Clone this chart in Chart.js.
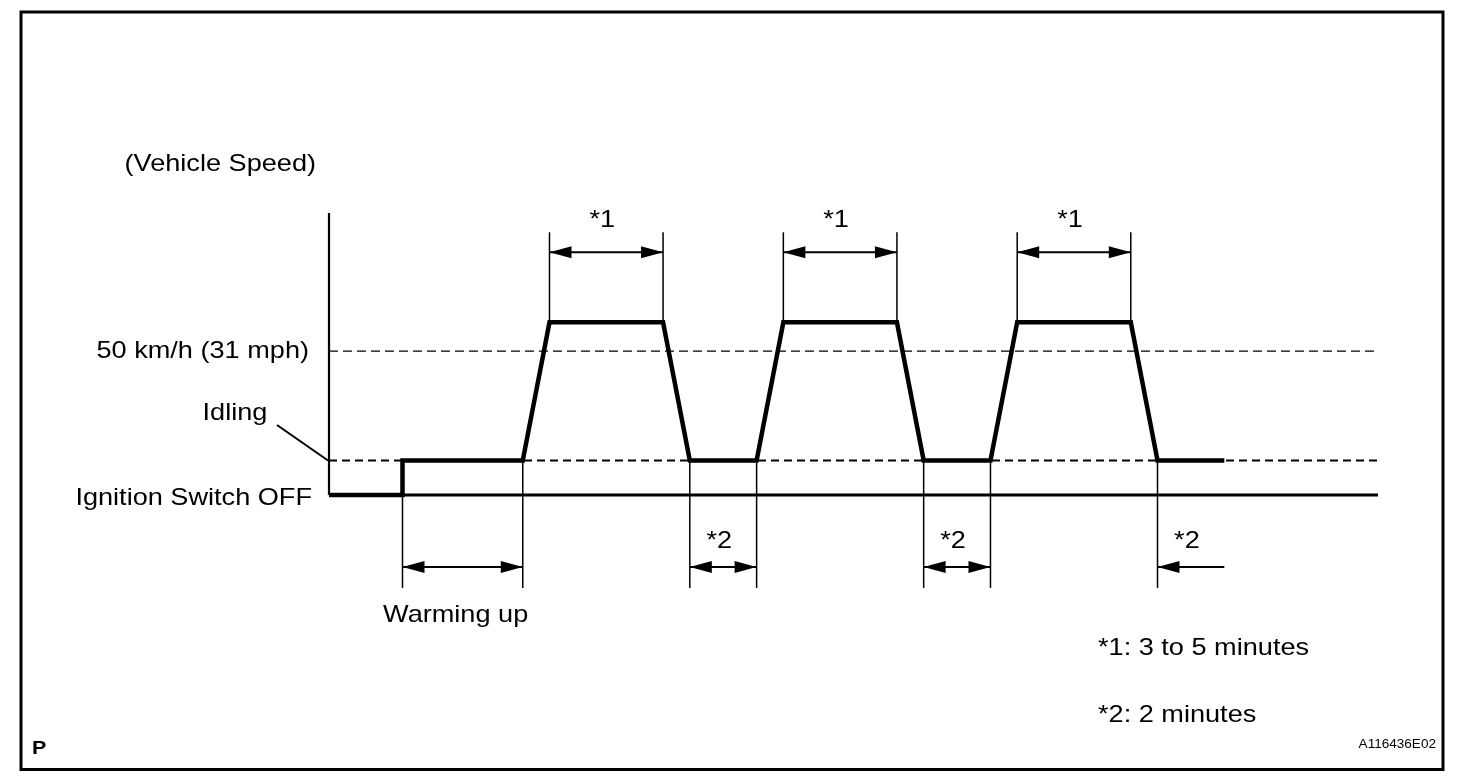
<!DOCTYPE html>
<html>
<head>
<meta charset="utf-8">
<script src="https://cdn.jsdelivr.net/npm/chart.js@4.4.0/dist/chart.umd.min.js"></script>
<style>
  html, body { margin: 0; padding: 0; background: #fff; }
  #chart { display: block; }
</style>
</head>
<body>
<canvas id="chart" width="1472" height="780"></canvas>
<script>
// Time in minutes (x) and schematic vehicle speed level (y)
const timeMin = [0, 2.2, 2.2, 5.8, 6.6, 10.0, 10.8, 12.8, 13.6, 17.0, 17.8, 19.8, 20.6, 24.0, 24.8, 26.8];
const speedLevel = [0, 0, 12, 12, 60, 60, 12, 12, 60, 60, 12, 12, 60, 60, 12, 12];
const timeMax = 31.4;
const speedMax = 98;

// Reference levels
const levelOff = 0;
const levelIdle = 12;
const level50 = 50;

// Dimensioned intervals
const cruiseSpans = [[6.6, 10.0], [13.6, 17.0], [20.6, 24.0]];
const idleSpans = [[10.8, 12.8], [17.8, 19.8], [24.8, 26.8]];
const warmUpSpan = [2.2, 5.8];

// Texts
const axisTitle = '(Vehicle Speed)';
const levelLabels = ['Ignition Switch OFF', 'Idling', '50 km/h (31 mph)'];
const spanLabels = ['*1', '*2', 'Warming up'];
const notes = ['*1: 3 to 5 minutes', '*2: 2 minutes'];
const cornerLabel = 'P';
const figureId = 'A116436E02';

const FONT = '"Liberation Sans", Arial, sans-serif';
const STRETCH = 1.13; // text in the drawing is slightly wide

function text(ctx, str, x, y, align, size, bold) {
    ctx.save();
    ctx.translate(x, y);
    ctx.scale(STRETCH, 1);
    ctx.font = (bold ? 'bold ' : '') + size + 'px ' + FONT;
    ctx.textAlign = align;
    ctx.textBaseline = 'middle';
    ctx.fillText(str, 0, 0);
    ctx.restore();
}

function line(ctx, x1, y1, x2, y2, w) {
    ctx.lineWidth = w;
    ctx.beginPath();
    ctx.moveTo(x1, y1);
    ctx.lineTo(x2, y2);
    ctx.stroke();
}

function arrowHead(ctx, tipX, y, dir) {
    // dir = -1 points left, +1 points right
    ctx.beginPath();
    ctx.moveTo(tipX, y);
    ctx.lineTo(tipX - dir * 22, y - 6);
    ctx.lineTo(tipX - dir * 22, y + 6);
    ctx.closePath();
    ctx.fill();
}

function dimension(ctx, x1, x2, y, both) {
    line(ctx, x1, y, x2, y, 2);
    arrowHead(ctx, x1, y, -1);
    if (both) arrowHead(ctx, x2, y, 1);
}

const diagramPlugin = {
    id: 'diagram',
    afterDraw(chart) {
        const ctx = chart.ctx;
        const px = v => chart.scales.x.getPixelForValue(v);
        const py = v => chart.scales.y.getPixelForValue(v);
        ctx.save();
        ctx.strokeStyle = '#000';
        ctx.fillStyle = '#000';

        // frame
        ctx.lineWidth = 3;
        ctx.strokeRect(21, 12, 1422, 757.5);

        // upper dimensions (*1)
        const upExtTop = py(91.3), upArrow = py(84.4), upLabel = py(95.5);
        cruiseSpans.forEach(([a, b]) => {
            line(ctx, px(a), py(60), px(a), upExtTop, 1.5);
            line(ctx, px(b), py(60), px(b), upExtTop, 1.5);
            dimension(ctx, px(a), px(b), upArrow, true);
            text(ctx, spanLabels[0], (px(a) + px(b)) / 2 - 4, upLabel, 'center', 24);
        });

        // lower dimensions (*2, warming up)
        const lowExtBot = py(-32.3), lowArrow = py(-25), lowLabel = py(-16);
        idleSpans.forEach(([a, b], i) => {
            const last = i === idleSpans.length - 1;
            line(ctx, px(a), py(levelIdle), px(a), lowExtBot, 1.5);
            if (!last) line(ctx, px(b), py(levelIdle), px(b), lowExtBot, 1.5);
            dimension(ctx, px(a), px(b), lowArrow, !last);
            text(ctx, spanLabels[1], (px(a) + px(b)) / 2 - 4, lowLabel, 'center', 24);
        });
        line(ctx, px(warmUpSpan[0]), py(levelOff), px(warmUpSpan[0]), lowExtBot, 1.5);
        line(ctx, px(warmUpSpan[1]), py(levelIdle), px(warmUpSpan[1]), lowExtBot, 1.5);
        dimension(ctx, px(warmUpSpan[0]), px(warmUpSpan[1]), lowArrow, true);
        text(ctx, spanLabels[2], (px(warmUpSpan[0]) + px(warmUpSpan[1])) / 2 - 7, py(-41.7), 'center', 24);

        // level labels on the left
        const axisX = px(0);
        text(ctx, axisTitle, 316, 164, 'right', 24);
        text(ctx, levelLabels[2], axisX - 20, py(level50), 'right', 24);
        text(ctx, levelLabels[0], axisX - 17, py(levelOff) + 3, 'right', 24);
        text(ctx, levelLabels[1], 235, 413, 'center', 24);
        line(ctx, 277, 425, axisX - 1, py(levelIdle), 2);

        // notes
        text(ctx, notes[0], 1098, 648, 'left', 24);
        text(ctx, notes[1], 1098, 715, 'left', 24);
        text(ctx, cornerLabel, 32, 749, 'left', 19, true);
        text(ctx, figureId, 1436, 745, 'right', 12);
        ctx.restore();
    }
};

const flat = (lvl) => [{ x: 0, y: lvl }, { x: timeMax, y: lvl }];
const trace = timeMin.map((t, i) => ({ x: t, y: speedLevel[i] }));

new Chart(document.getElementById('chart'), {
    type: 'line',
    data: {
        datasets: [
            { data: trace, borderColor: '#000', borderWidth: 4.5, borderJoinStyle: 'miter', order: 0 },
            { data: [{ x: 0, y: levelOff }, { x: 0, y: speedMax }], borderColor: '#000', borderWidth: 2.2, order: 1 },
            { data: flat(levelOff), borderColor: '#000', borderWidth: 3, order: 2 },
            { data: flat(levelIdle), borderColor: '#000', borderWidth: 2, borderDash: [8, 5], order: 3 },
            { data: flat(level50), borderColor: '#000', borderWidth: 1.3, borderDash: [9, 5], order: 4 }
        ]
    },
    options: {
        responsive: false,
        animation: false,
        devicePixelRatio: 1,
        parsing: false,
        clip: false,
        elements: { point: { radius: 0, hoverRadius: 0 }, line: { tension: 0, borderCapStyle: 'butt' } },
        layout: { padding: { left: 329, right: 94, top: 213, bottom: 285 } },
        scales: {
            x: { type: 'linear', min: 0, max: timeMax, display: false },
            y: { type: 'linear', min: 0, max: speedMax, display: false }
        },
        plugins: { legend: { display: false }, tooltip: { enabled: false } }
    },
    plugins: [diagramPlugin]
});
</script>
</body>
</html>
